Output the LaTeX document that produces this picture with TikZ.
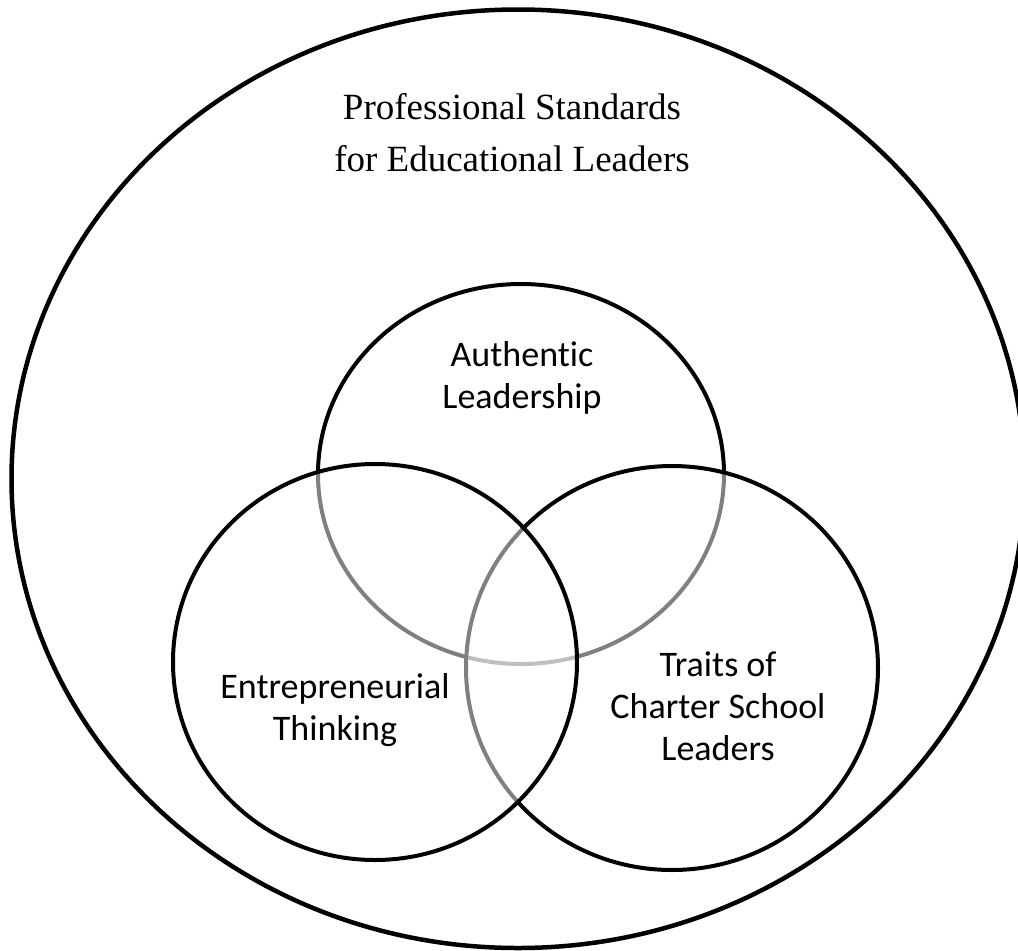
\documentclass[tikz,border=0pt]{standalone}
\usepackage{fontspec}
\setmainfont{Liberation Serif}
\newfontfamily\labelfont[Ligatures=NoCommon]{Carlito}
\begin{document}
\begin{tikzpicture}[x=1pt,y=-1pt,
  frame/.style={draw=black, line width=4.5pt},
  ring/.style={draw=black, line width=4pt, fill=white, fill opacity=0.5},
  title/.style={font=\fontsize{37}{52}\selectfont, align=center, inner sep=0pt},
  tag/.style={font=\labelfont\fontsize{36}{42}\selectfont, align=center, inner sep=0pt}]
\useasboundingbox (0,0) rectangle (1018,951);

% centres of the outer frame and of the three sets
\coordinate (cO) at (518,478.75);
\coordinate (cA) at (521,474);
\coordinate (cE) at (375,662);
\coordinate (cT) at (672,668);

% outer frame
\draw[frame] (cO) ellipse [x radius=506.5pt, y radius=469.25pt];

% the three sets; translucent white fills grey the lines they cover
\path[ring] (cA) ellipse [x radius=203pt, y radius=190pt];
\path[ring] (cT) ellipse [x radius=206pt, y radius=202pt];
\path[ring] (cE) ellipse [x radius=202pt, y radius=198pt];

% labels
\node[title] (std) at (512,133) {Professional Standards\\for Educational Leaders};
\node[tag] (auth) at (522,378) {Authentic\\Leadership};
\node[tag] (entr) at (335,710) {Entrepreneurial\\Thinking};
\node[tag] (trait) at (718,706) {Traits of\\Charter School\\Leaders};
\end{tikzpicture}
\end{document}
